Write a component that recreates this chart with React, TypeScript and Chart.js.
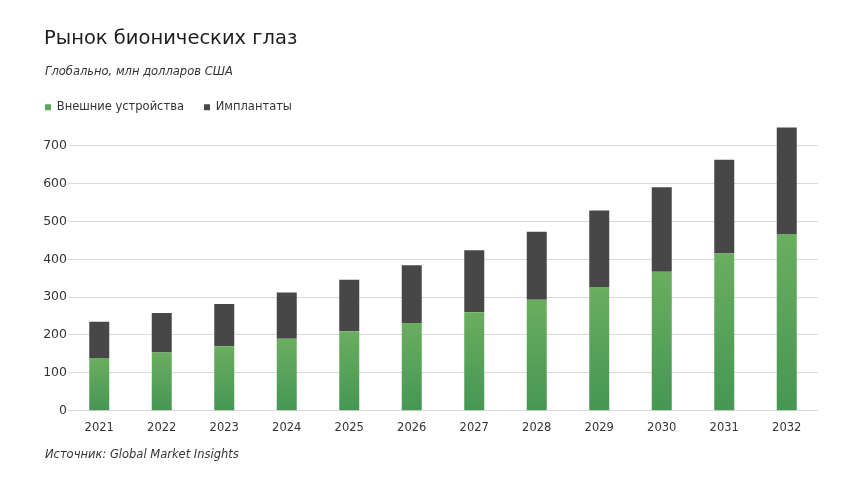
import React, { useEffect, useRef } from "react";
import { Chart, registerables } from "chart.js";

Chart.register(...registerables);

const years = ["2021", "2022", "2023", "2024", "2025", "2026", "2027", "2028", "2029", "2030", "2031", "2032"];
const externalDevices = [139, 154, 170, 190, 210, 232, 260, 293, 327, 367, 415, 467];
const implants = [96, 104, 112, 122, 136, 152, 164, 180, 202, 223, 248, 281];
const seriesNames = ["Внешние устройства", "Имплантаты"];
const yMin = 0;
const yMax = 760;
const yStep = 100;
const titleText = "Рынок бионических глаз";
const subtitleText = "Глобально, млн долларов США";
const sourceText = "Источник: Global Market Insights";

const FONT = "'DejaVu Sans', sans-serif";
const GREEN_TOP = "#6aae5f";
const GREEN_BOTTOM = "#469654";
const GREEN_LEGEND = "#5aa757";
const DARK = "#474747";
const TEXT = "#1e1e1e";

const textPlugin = {
  id: "headerFooter",
  afterDraw(chart: any) {
    const ctx = chart.ctx;
    ctx.save();
    ctx.fillStyle = TEXT;
    ctx.textAlign = "left";
    ctx.textBaseline = "alphabetic";
    ctx.font = `19.5px ${FONT}`;
    ctx.fillText(titleText, 44, 43.5);
    ctx.fillStyle = "#333333";
    ctx.font = `italic 11.5px ${FONT}`;
    ctx.fillText(subtitleText, 45, 75);
    ctx.font = `italic 11.5px ${FONT}`;
    ctx.fillText(sourceText, 45, 458);
    ctx.restore();
  },
};

export default function App() {
  const ref = useRef<HTMLCanvasElement | null>(null);

  useEffect(() => {
    if (!ref.current) return;
    const greenFill = (c: any) => {
      const chart = c.chart;
      const area = chart.chartArea;
      if (!area || c.type !== "data") return GREEN_TOP;
      const y = chart.scales.y;
      const top = y.getPixelForValue(c.raw);
      const bottom = y.getPixelForValue(0);
      if (!isFinite(top) || !isFinite(bottom) || top === bottom) return GREEN_TOP;
      const g = chart.ctx.createLinearGradient(0, top, 0, bottom);
      g.addColorStop(0, GREEN_TOP);
      g.addColorStop(1, GREEN_BOTTOM);
      return g;
    };
    const legendColors = [GREEN_LEGEND, DARK];

    const chart = new Chart(ref.current, {
      type: "bar",
      data: {
        labels: years,
        datasets: [
          { label: seriesNames[0], data: externalDevices, backgroundColor: greenFill, borderWidth: 0 },
          { label: seriesNames[1], data: implants, backgroundColor: DARK, borderWidth: 0 },
        ],
      },
      options: {
        responsive: false,
        animation: false,
        devicePixelRatio: 1,
        layout: { padding: { top: 81.5, left: 25, right: 42, bottom: 39.5 } },
        datasets: { bar: { barPercentage: 0.32, categoryPercentage: 1 } },
        plugins: {
          title: { display: false },
          tooltip: { enabled: false },
          legend: {
            display: true,
            position: "top",
            align: "start",
            labels: {
              boxWidth: 6,
              boxHeight: 6,
              padding: 20,
              color: "#333333",
              font: { family: FONT, size: 11.5 },
              generateLabels: (ch: any) =>
                (Chart.defaults.plugins.legend.labels as any).generateLabels(ch).map((l: any) => ({
                  ...l,
                  fillStyle: legendColors[l.datasetIndex],
                  strokeStyle: legendColors[l.datasetIndex],
                  lineWidth: 0,
                })),
            },
          },
        },
        scales: {
          x: {
            stacked: true,
            grid: { display: false, drawTicks: false },
            border: { display: false },
            ticks: { color: "#333333", font: { family: FONT, size: 11.5 }, padding: 10, maxRotation: 0 },
          },
          y: {
            stacked: true,
            min: yMin,
            max: yMax,
            afterFit: (s: any) => {
              s.width = 43;
            },
            grid: { color: "#d9d9d9", lineWidth: 1, drawTicks: false },
            border: { display: false },
            ticks: {
              stepSize: yStep,
              includeBounds: false,
              padding: 1,
              color: "#333333",
              font: { family: FONT, size: 12.5 },
            },
          },
        },
      },
      plugins: [textPlugin],
    });
    return () => chart.destroy();
  }, []);

  return (
    <div style={{ position: "fixed", left: 0, top: 0, width: 860, height: 484, background: "#ffffff" }}>
      <canvas ref={ref} width={860} height={484} />
    </div>
  );
}
